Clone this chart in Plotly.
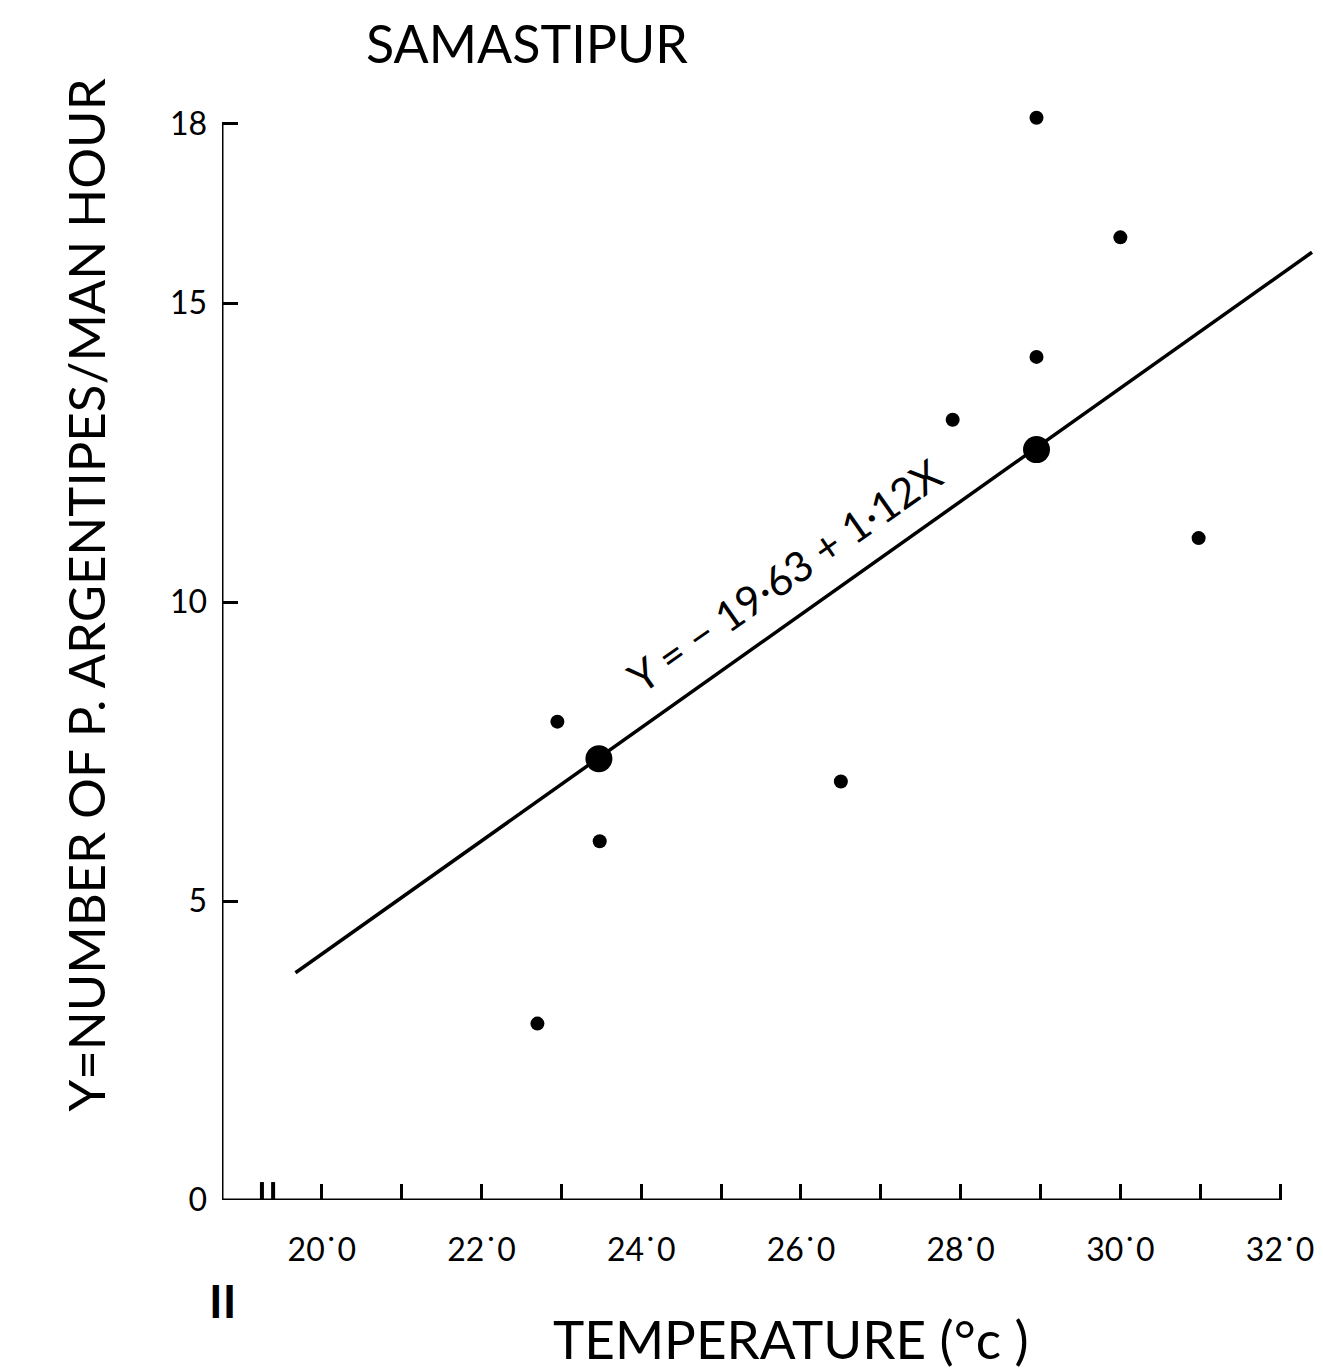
import plotly.graph_objects as go

# ---- data ----
temp_obs = [28.95, 30.0, 28.95, 27.9, 30.98, 22.95, 26.5, 23.48, 22.7]
count_obs = [18.1, 16.1, 14.1, 13.05, 11.07, 8.0, 7.0, 6.0, 2.95]
temp_mean = [23.47, 28.95]
count_mean = [7.38, 12.55]
line_x = [19.67, 32.4]
line_y = [3.8, 15.85]
x_ticks = list(range(20, 33))
x_tick_text = ["20˙0", "", "22˙0", "", "24˙0", "", "26˙0", "", "28˙0", "", "30˙0", "", "32˙0"]
y_ticks = [0, 5, 10, 15, 18]
y_tick_text = ["0", "5", "10", "15", "18"]
x_min, x_max = 18.75, 32.0
y_max = 18.0

FONT = "Lato"
BLACK = "#000000"

fig = go.Figure()
fig.add_trace(go.Scatter(x=line_x, y=line_y, mode="lines",
                         line=dict(color=BLACK, width=3.5), showlegend=False))
fig.add_trace(go.Scatter(x=temp_obs, y=count_obs, mode="markers",
                         marker=dict(color=BLACK, size=14), showlegend=False))
fig.add_trace(go.Scatter(x=temp_mean, y=count_mean, mode="markers",
                         marker=dict(color=BLACK, size=27), showlegend=False))

# axis lines
fig.add_shape(type="line", x0=x_min, x1=x_max, y0=0, y1=0, xref="x", yref="y",
              line=dict(color=BLACK, width=3))
fig.add_shape(type="line", x0=x_min, x1=x_min, y0=0, y1=y_max, xref="x", yref="y",
              line=dict(color=BLACK, width=3))
# axis break marks
for bx in (19.25, 19.39):
    fig.add_shape(type="line", x0=bx, x1=bx, y0=-0.3, y1=0.3, xref="x", yref="y",
                  line=dict(color=BLACK, width=4))

fig.update_layout(
    width=1323, height=1370,
    margin=dict(l=214, r=15, t=38, b=178),
    paper_bgcolor="white", plot_bgcolor="white",
    xaxis=dict(range=[x_min, 32.45], showgrid=False, zeroline=False, showline=False,
               tickmode="array", tickvals=x_ticks, ticktext=x_tick_text,
               ticks="inside", ticklen=16, tickwidth=3, tickcolor=BLACK,
               ticklabelstandoff=28,
               tickfont=dict(family=FONT, size=32, color=BLACK)),
    yaxis=dict(range=[0, 19.3], showgrid=False, zeroline=False, showline=False,
               tickmode="array", tickvals=y_ticks, ticktext=y_tick_text,
               ticks="inside", ticklen=16, tickwidth=3, tickcolor=BLACK,
               ticklabelstandoff=14,
               tickfont=dict(family=FONT, size=32, color=BLACK)),
    annotations=[
        dict(text="SAMASTIPUR", xref="paper", yref="paper", x=0.279, y=1.003,
             xanchor="center", yanchor="middle",
             showarrow=False, font=dict(family=FONT, size=52, color=BLACK)),
        dict(text="Y=NUMBER OF P. ARGENTIPES/MAN HOUR", xref="paper", yref="paper",
             x=-0.125, y=0.524, xanchor="center", yanchor="middle", textangle=-90,
             showarrow=False, font=dict(family=FONT, size=51, color=BLACK)),
        dict(text="TEMPERATURE (°c )", xref="paper", yref="paper", x=0.52, y=-0.12,
             xanchor="center", yanchor="middle",
             showarrow=False, font=dict(family=FONT, size=53, color=BLACK)),
        dict(text="<b>II</b>", xref="paper", yref="paper", x=0.0, y=-0.087,
             xanchor="center", yanchor="middle",
             showarrow=False, font=dict(family=FONT, size=46, color=BLACK)),
        dict(text="Y = − 19·63 + 1·12X", xref="x", yref="y", x=25.8, y=10.45,
             xanchor="center", yanchor="middle",
             textangle=-35, showarrow=False, font=dict(family=FONT, size=42, color=BLACK)),
    ],
)

fig.write_html("out.html")
